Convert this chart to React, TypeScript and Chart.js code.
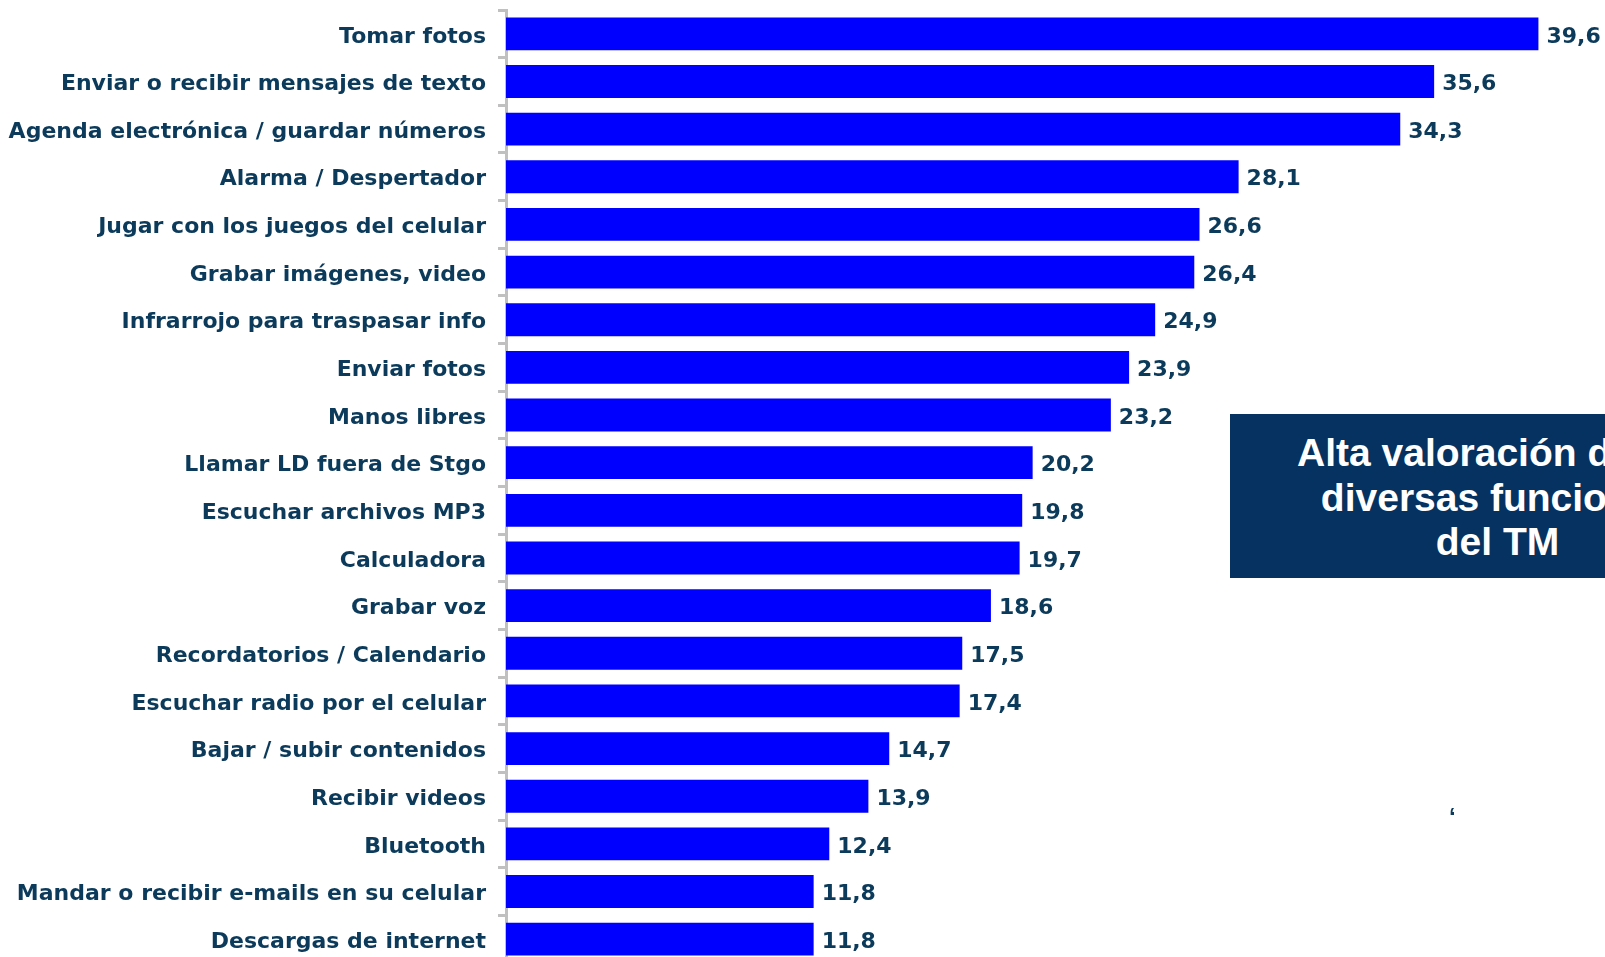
import React, { useEffect, useRef } from "react";
import { Chart, registerables } from "chart.js";

Chart.register(...registerables);

const categories: string[] = [
  "Tomar fotos",
  "Enviar o recibir mensajes de texto",
  "Agenda electrónica / guardar números",
  "Alarma / Despertador",
  "Jugar con los juegos del celular",
  "Grabar imágenes, video",
  "Infrarrojo para traspasar info",
  "Enviar fotos",
  "Manos libres",
  "Llamar LD fuera de Stgo",
  "Escuchar archivos MP3",
  "Calculadora",
  "Grabar voz",
  "Recordatorios / Calendario",
  "Escuchar radio por el celular",
  "Bajar / subir contenidos",
  "Recibir videos",
  "Bluetooth",
  "Mandar o recibir e-mails en su celular",
  "Descargas de internet",
];

const values: number[] = [
  39.6, 35.6, 34.3, 28.1, 26.6, 26.4, 24.9, 23.9, 23.2, 20.2, 19.8, 19.7, 18.6,
  17.5, 17.4, 14.7, 13.9, 12.4, 11.8, 11.8,
];

const boxLines: string[] = ["Alta valoración de las", "diversas funciones", "del TM"];

const TEXT_COLOR = "#0B3A5A";
const BAR_COLOR = "#0000FF";
const AXIS_COLOR = "#C0C0C0";
const BOX_COLOR = "#053260";
const LABEL_FONT = "'DejaVu Sans', Verdana, sans-serif";

const valueLabelPlugin = {
  id: "valueLabels",
  afterDatasetsDraw(chart: any) {
    const ctx = chart.ctx;
    const meta = chart.getDatasetMeta(0);
    ctx.save();
    ctx.font = `bold 22px ${LABEL_FONT}`;
    ctx.fillStyle = TEXT_COLOR;
    ctx.textAlign = "left";
    ctx.textBaseline = "middle";
    meta.data.forEach((bar: any, i: number) => {
      const v = values[i];
      const txt = v.toFixed(1).replace(".", ",");
      ctx.fillText(txt, bar.x + 8, bar.y + 3);
    });
    ctx.restore();
  },
};

export default function App() {
  const canvasRef = useRef<HTMLCanvasElement | null>(null);

  useEffect(() => {
    if (!canvasRef.current) return;
    const chart = new Chart(canvasRef.current, {
      type: "bar",
      data: {
        labels: categories,
        datasets: [
          {
            data: values,
            backgroundColor: BAR_COLOR,
            borderWidth: 0,
            barPercentage: 0.69,
            categoryPercentage: 1,
          },
        ],
      },
      options: {
        indexAxis: "y",
        responsive: false,
        animation: false,
        layout: { padding: { left: 0, right: 4, top: 10, bottom: 7 } },
        plugins: {
          legend: { display: false },
          tooltip: { enabled: false },
          title: { display: false },
        },
        scales: {
          x: {
            display: false,
            min: 0,
            max: 42,
          },
          y: {
            afterFit: (scale: any) => {
              scale.width = 506;
              scale.paddingTop = 0;
              scale.paddingBottom = 0;
            },
            border: { display: true, color: AXIS_COLOR, width: 3 },
            grid: {
              display: true,
              offset: true,
              drawOnChartArea: false,
              drawTicks: true,
              tickLength: 8,
              color: AXIS_COLOR,
              lineWidth: 3,
            },
            ticks: {
              color: TEXT_COLOR,
              padding: 12,
              autoSkip: false,
              callback: (_v: any, i: number) => ["", categories[i]],
              font: { family: LABEL_FONT, size: 22, weight: "bold", lineHeight: "6px" },
            },
          },
        },
      },
      plugins: [valueLabelPlugin],
    });
    return () => chart.destroy();
  }, []);

  return (
    <div
      style={{
        position: "fixed",
        left: 0,
        top: 0,
        width: 1605,
        height: 957,
        overflow: "hidden",
        background: "#FFFFFF",
      }}
    >
      <canvas
        ref={canvasRef}
        width={1605}
        height={970}
        style={{ position: "absolute", left: 0, top: 0, width: 1605, height: 970 }}
      />
      <div
        style={{
          position: "absolute",
          left: 1230,
          top: 414,
          width: 535,
          height: 164,
          background: BOX_COLOR,
          color: "#FFFFFF",
          fontFamily: "'Liberation Sans', Arial, sans-serif",
          fontWeight: "bold",
          fontSize: 39,
          lineHeight: "44.5px",
          textAlign: "center",
          boxSizing: "border-box",
          paddingTop: 17,
        }}
      >
        {boxLines.map((l, i) => (
          <div key={i} style={{ whiteSpace: "nowrap" }}>
            {l}
          </div>
        ))}
      </div>
      <div
        style={{
          position: "absolute",
          left: 1449,
          top: 805,
          color: TEXT_COLOR,
          fontFamily: "'Liberation Sans', Arial, sans-serif",
          fontWeight: "bold",
          fontSize: 24,
          lineHeight: "24px",
        }}
      >
        ‘
      </div>
    </div>
  );
}
